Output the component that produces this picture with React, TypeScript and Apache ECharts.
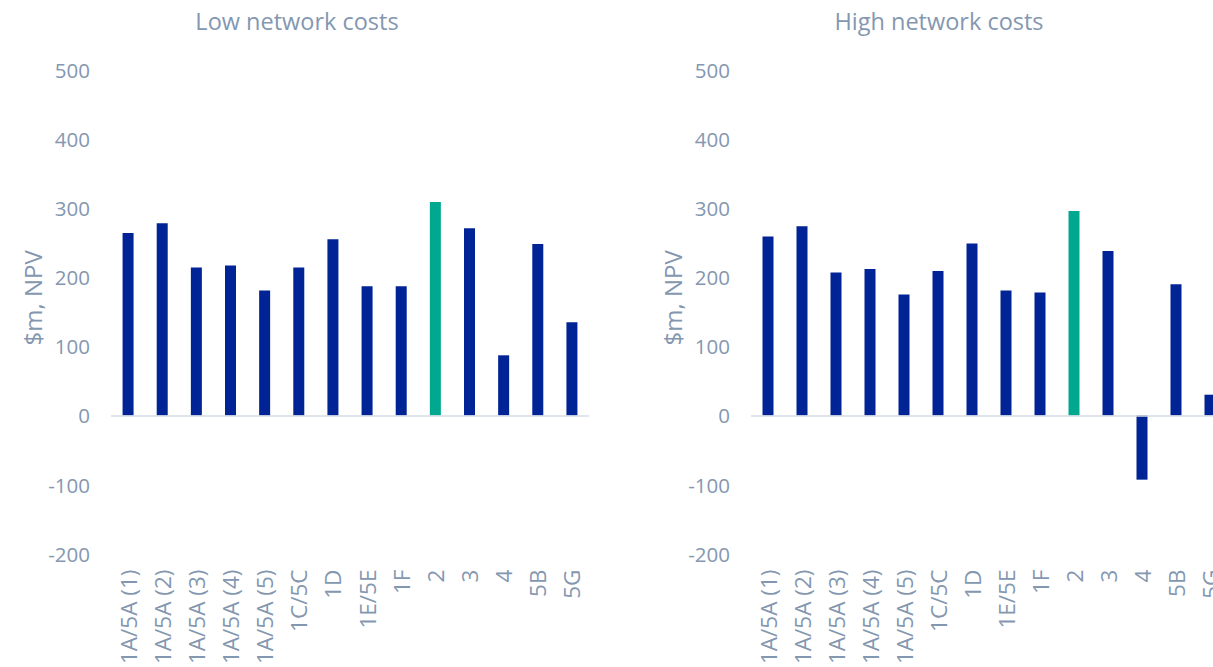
import React, { useEffect, useRef } from "react";
import * as echarts from "echarts";

const categories = ["1A/5A (1)", "1A/5A (2)", "1A/5A (3)", "1A/5A (4)", "1A/5A (5)", "1C/5C", "1D", "1E/5E", "1F", "2", "3", "4", "5B", "5G"];
const lowCosts = [264, 278, 214, 217, 181, 214, 255, 187, 187, 309, 271, 87, 248, 135];
const highCosts = [259, 274, 207, 212, 175, 209, 249, 181, 178, 296, 238, -93, 190, 30];
const highlightCategory = "2";
const titles = ["Low network costs", "High network costs"];
const yAxisName = "$m, NPV";

const BLUE = "#002395";
const GREEN = "#00A88F";
const TEXT = "#8497B0";
const FONT = "Open Sans";

export default function App() {
  const ref = useRef<HTMLDivElement>(null);
  useEffect(() => {
    if (!ref.current) return;
    const chart = echarts.init(ref.current, null, { renderer: "svg" });
    const grids = [
      { left: 111, top: 70, width: 478, height: 484 },
      { left: 751, top: 70, width: 476, height: 484 },
    ];
    const mkData = (vals: number[]) =>
      vals.map((v, i) => ({
        value: v,
        itemStyle: { color: categories[i] === highlightCategory ? GREEN : BLUE },
      }));
    const titleStyle = { color: TEXT, fontSize: 23.5, fontWeight: "normal", fontFamily: FONT };
    const option: any = {
      animation: false,
      textStyle: { fontFamily: FONT },
      title: [
        { text: titles[0], left: 292, top: 4, textAlign: "center", textStyle: titleStyle },
        { text: titles[1], left: 934, top: 4, textAlign: "center", textStyle: titleStyle },
      ],
      grid: grids,
      xAxis: [0, 1].map((g) => ({
        type: "category",
        gridIndex: g,
        data: categories,
        axisLine: { show: false, onZero: false },
        axisTick: { show: false },
        axisLabel: { rotate: 90, color: TEXT, fontSize: 22.5, margin: 16, fontFamily: FONT, interval: 0 },
      })),
      yAxis: [0, 1].map((g) => ({
        type: "value",
        gridIndex: g,
        min: -200,
        max: 500,
        interval: 100,
        name: yAxisName,
        nameLocation: "middle",
        nameGap: 66,
        nameTextStyle: { color: TEXT, fontSize: 24, fontFamily: FONT, padding: [0, 0, 0, 28] },
        axisLine: { show: false },
        axisTick: { show: false },
        splitLine: { show: false },
        axisLabel: { color: TEXT, fontSize: 20.5, margin: 21, fontFamily: FONT },
      })),
      series: [lowCosts, highCosts].map((vals, g) => ({
        type: "bar",
        xAxisIndex: g,
        yAxisIndex: g,
        data: mkData(vals),
        barWidth: 11,
        markLine: {
          silent: true,
          symbol: "none",
          label: { show: false },
          lineStyle: { color: "#D6DCE5", type: "solid", width: 1.5 },
          data: [{ yAxis: 0 }],
        },
      })),
    };
    chart.setOption(option);
    return () => chart.dispose();
  }, []);
  return (
    <div style={{ position: "fixed", left: 0, top: 0, width: 1213, height: 667, overflow: "hidden", background: "#fff" }}>
      <div ref={ref} style={{ width: 1250, height: 667 }} />
    </div>
  );
}
